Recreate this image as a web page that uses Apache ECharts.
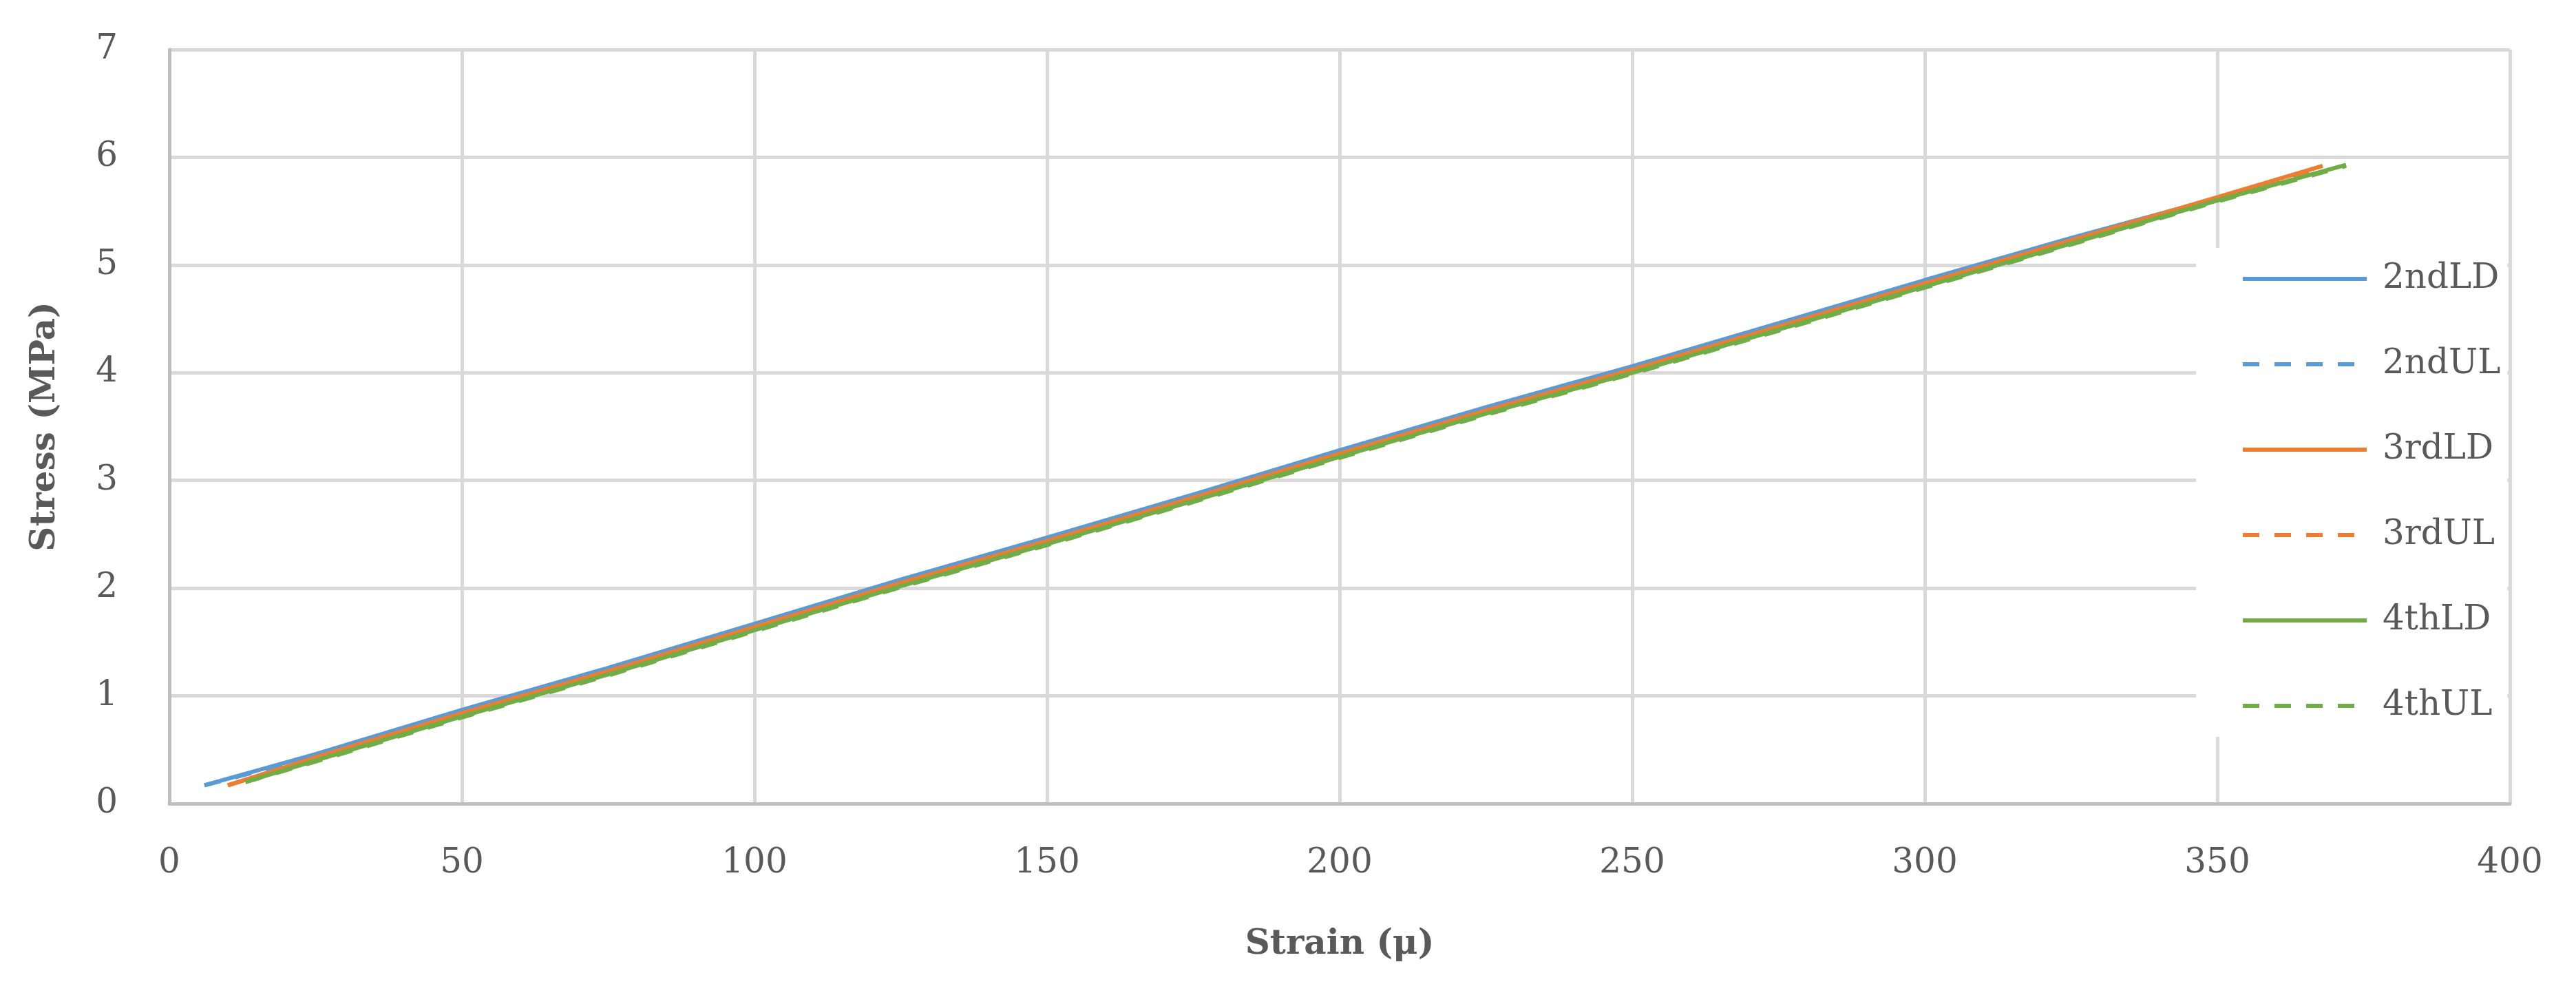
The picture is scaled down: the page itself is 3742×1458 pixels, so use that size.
<!DOCTYPE html><html><head><meta charset="utf-8"><script src="https://cdn.jsdelivr.net/npm/echarts@6/dist/echarts.min.js"></script>
<style>html,body{margin:0;background:#fff}#c{width:3742px;height:1458px}</style></head><body><div id="c"></div><script>
const names=['2ndLD','2ndUL','3rdLD','3rdUL','4thLD','4thUL'];
const colors=['#5B9BD5','#5B9BD5','#ED7D31','#ED7D31','#70AD47','#70AD47'];
const dashed=[false,true,false,true,false,true];
const s2LD=[[6,0.17],[25,0.46],[50,0.87],[75,1.26],[100,1.67],[125,2.08],[150,2.47],[175,2.87],[200,3.28],[225,3.68],[250,4.06],[275,4.46],[300,4.86],[325,5.25],[352,5.65]];
const s2UL=[[6,0.17],[25,0.44],[50,0.85],[75,1.24],[100,1.65],[125,2.06],[150,2.45],[175,2.85],[200,3.26],[225,3.66],[250,4.04],[275,4.44],[300,4.84],[325,5.24],[352,5.64]];
const s3LD=[[10,0.17],[25,0.43],[50,0.84],[75,1.23],[100,1.64],[125,2.05],[150,2.44],[175,2.84],[200,3.25],[225,3.65],[250,4.03],[275,4.43],[300,4.83],[325,5.23],[350,5.63],[368,5.92]];
const s3UL=[[10,0.17],[25,0.42],[50,0.83],[75,1.22],[100,1.63],[125,2.04],[150,2.43],[175,2.83],[200,3.24],[225,3.64],[250,4.02],[275,4.42],[300,4.82],[325,5.22],[350,5.62],[368,5.91]];
const s4LD=[[13,0.2],[25,0.40],[50,0.81],[75,1.20],[100,1.61],[125,2.02],[150,2.41],[175,2.81],[200,3.22],[225,3.62],[250,4.00],[275,4.40],[300,4.80],[325,5.20],[350,5.60],[372,5.93]];
const s4UL=[[13,0.2],[25,0.39],[50,0.80],[75,1.19],[100,1.60],[125,2.01],[150,2.40],[175,2.80],[200,3.21],[225,3.61],[250,3.99],[275,4.39],[300,4.79],[325,5.19],[350,5.59],[372,5.92]];
const data=[s2LD,s2UL,s3LD,s3UL,s4LD,s4UL];
const F='"DejaVu Serif","Liberation Serif",serif';
const ch=echarts.init(document.getElementById('c'));
ch.setOption({animation:false,backgroundColor:'#fff',
grid:{left:246,right:96,top:72,bottom:291},
legend:{orient:'vertical',left:3190,top:360,itemWidth:180,itemHeight:14,itemGap:74,backgroundColor:'#fff',padding:[20,10,20,65],
 itemStyle:{opacity:0},lineStyle:{width:6},
 textStyle:{fontFamily:F,fontSize:50,color:'#595959',padding:[0,0,0,18]},data:names},
xAxis:{type:'value',min:0,max:400,interval:50,name:'Strain (μ)',nameLocation:'middle',nameGap:180,
 nameTextStyle:{fontFamily:F,fontSize:50,fontWeight:'bold',color:'#595959'},
 axisLine:{show:true,lineStyle:{color:'#BFBFBF',width:5}},axisTick:{show:false},
 axisLabel:{fontFamily:F,fontSize:50,color:'#595959',margin:62},
 splitLine:{show:true,lineStyle:{color:'#D9D9D9',width:5}}},
yAxis:{type:'value',min:0,max:7,interval:1,name:'Stress (MPa)',nameLocation:'middle',nameGap:155,
 nameTextStyle:{fontFamily:F,fontSize:50,fontWeight:'bold',color:'#595959'},
 axisLine:{show:true,lineStyle:{color:'#BFBFBF',width:5}},axisTick:{show:false},
 axisLabel:{fontFamily:F,fontSize:50,color:'#595959',margin:75},
 splitLine:{show:true,lineStyle:{color:'#D9D9D9',width:5}}},
series:names.map((n,i)=>({name:n,type:'line',data:data[i],showSymbol:false,symbol:'none',
 lineStyle:{color:colors[i],width:6,type:dashed[i]?[24,22]:'solid'},itemStyle:{color:colors[i]}}))
});
</script></body></html>
